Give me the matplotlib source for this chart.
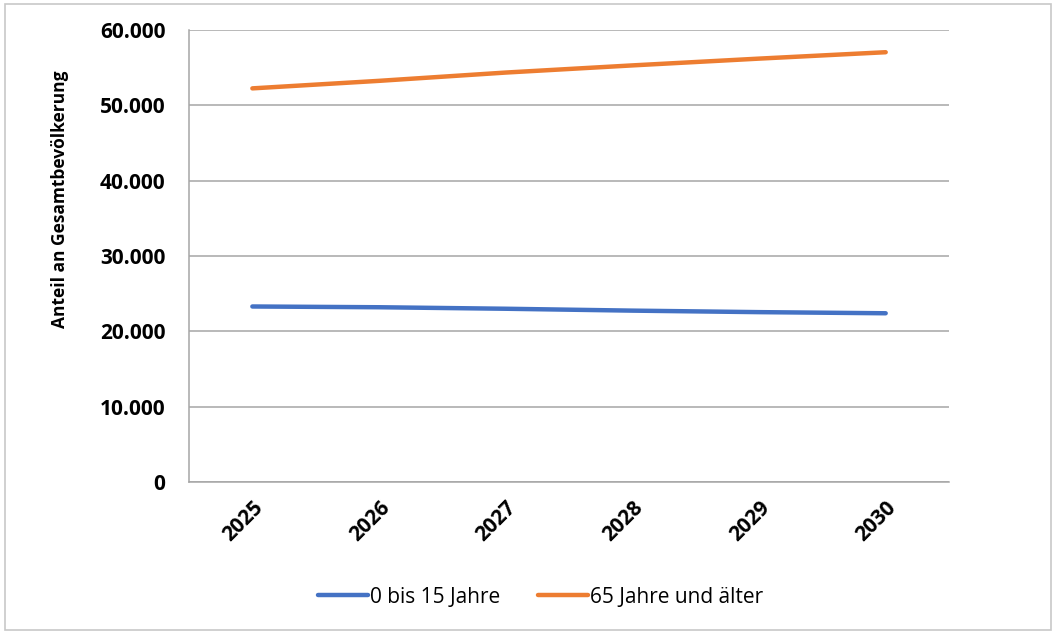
import matplotlib

matplotlib.use("Agg")
import matplotlib.pyplot as plt  # noqa: E402
from matplotlib.patches import Rectangle  # noqa: E402
from matplotlib.ticker import FuncFormatter  # noqa: E402

plt.rcParams["font.family"] = ["Open Sans", "DejaVu Sans"]

jahre = ["2025", "2026", "2027", "2028", "2029", "2030"]
jung = [23300, 23200, 23000, 22750, 22550, 22400]
alt = [52250, 53250, 54350, 55300, 56200, 57050]

BLAU = "#4472C4"
ORANGE = "#ED7D31"
GRID = "#a6a6a6"


def _tausender(v, _pos):
    return f"{v:,.0f}".replace(",", ".")


fig = plt.figure(figsize=(10.56, 6.34), dpi=100)
ax = fig.add_axes([0.179, 0.2397, 0.7197, 0.713])

x = range(len(jahre))
ax.plot(x, jung, color=BLAU, lw=3.2, solid_capstyle="round", label="0 bis 15 Jahre")
ax.plot(x, alt, color=ORANGE, lw=3.2, solid_capstyle="round", label="65 Jahre und älter")

ax.set_xlim(-0.5, len(jahre) - 0.5)
ax.set_ylim(0, 60000)
ax.set_yticks(range(0, 60001, 10000))
ax.yaxis.set_major_formatter(FuncFormatter(_tausender))
ax.set_xticks(list(x))
ax.set_xticklabels(jahre, rotation=45, ha="right", va="top", rotation_mode="anchor")

ax.grid(axis="y", color=GRID, lw=1.1)
ax.set_axisbelow(True)
for s in ("top", "right"):
    ax.spines[s].set_visible(False)
for s in ("left", "bottom"):
    ax.spines[s].set_color(GRID)
    ax.spines[s].set_linewidth(1.1)
ax.tick_params(axis="both", length=0, labelsize=15, labelcolor="black")
ax.tick_params(axis="y", pad=17)
ax.tick_params(axis="x", pad=11)
for t in ax.get_xticklabels() + ax.get_yticklabels():
    t.set_fontweight("bold")

ax.set_ylabel("Anteil an Gesamtbevölkerung", fontsize=12.5, fontweight="bold")
ax.yaxis.set_label_coords(-0.158, 0.626)

fig.legend(loc="center", bbox_to_anchor=(0.512, 0.058), ncol=2, frameon=False,
           fontsize=15, handlelength=2.4, handletextpad=0.1, columnspacing=1.8)

# Rahmen um den gesamten Diagrammbereich
fig.patches.append(Rectangle((0.005, 0.006), 0.99, 0.988, transform=fig.transFigure,
                             fill=False, edgecolor="#c8c8c8", lw=1.2))

fig.savefig("out.png", dpi=100)
